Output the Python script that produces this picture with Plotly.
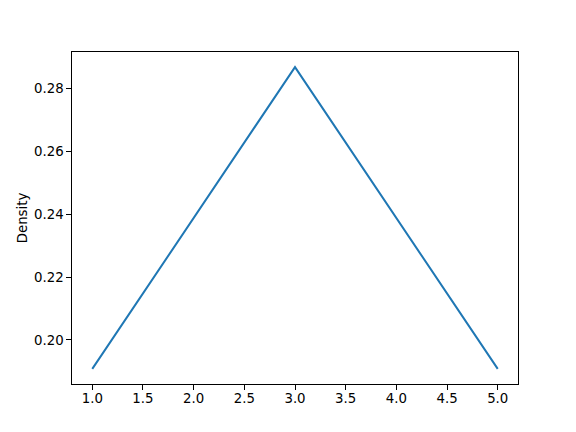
import plotly.graph_objects as go

x_vals = [1, 3, 5]
density = [0.1908, 0.2867, 0.1908]
y_label = "Density"

# page body has an 8px default margin; compensate so the plot sits like the reference
W, H = 568, 424
fig = go.Figure()
fig.add_trace(go.Scatter(x=x_vals, y=density, mode="lines",
                         line=dict(color="#1f77b4", width=2)))

axis_common = dict(showline=True, linecolor="black", linewidth=1, mirror=True,
                   ticks="outside", ticklen=4.67, tickwidth=1, tickcolor="black",
                   showgrid=False, zeroline=False,
                   tickfont=dict(family="DejaVu Sans", size=13.33, color="black"))

fig.update_layout(
    width=W, height=H,
    margin=dict(l=64, r=57.6, t=43.84, b=47.52),
    paper_bgcolor="white", plot_bgcolor="white",
    showlegend=False,
    xaxis=dict(range=[0.8, 5.2], tick0=1, dtick=0.5, tickformat=".1f",
               ticklabelstandoff=-3, **axis_common),
    yaxis=dict(range=[0.18601, 0.29149], tick0=0.2, dtick=0.02, tickformat=".2f",
               title=dict(text=y_label, font=dict(family="DejaVu Sans", size=13.33, color="black"), standoff=3),
               **axis_common),
)
fig.write_html("out.html")
